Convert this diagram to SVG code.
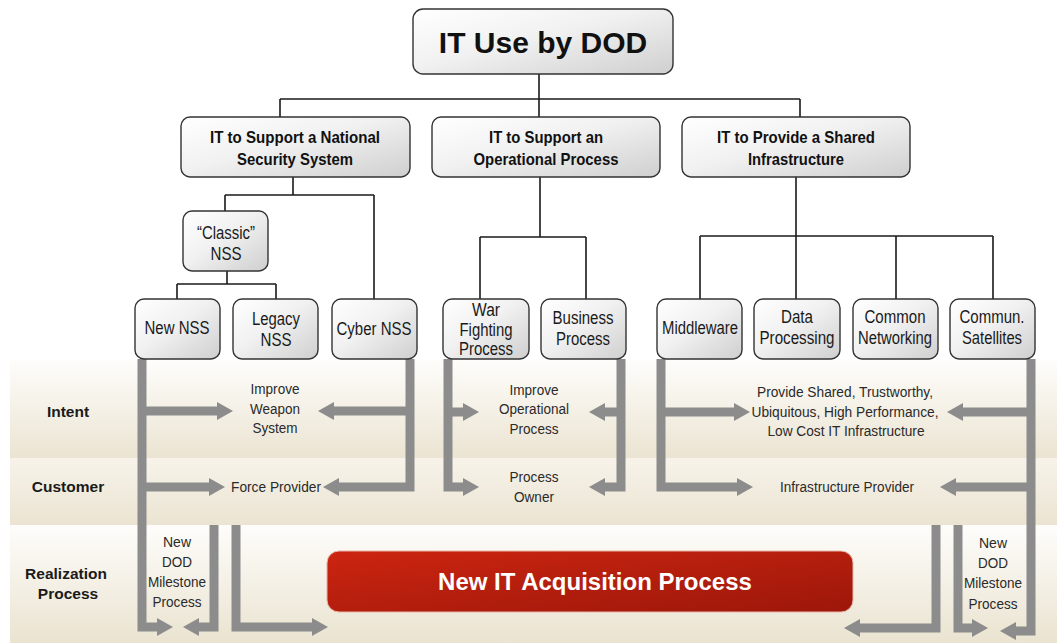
<svg xmlns="http://www.w3.org/2000/svg" width="1057" height="643" viewBox="0 0 1057 643">
<style>
.box{fill:url(#gbox);stroke:#333;stroke-width:1.4}
.tree{fill:none;stroke:#1a1a1a;stroke-width:1.6}
.flow{fill:none;stroke:#8c8c8c;stroke-width:9;stroke-linejoin:miter;marker-end:url(#ah)}
.t1{font-family:"Liberation Sans",Arial,sans-serif;font-weight:bold;font-size:30px;fill:#111;text-anchor:middle}
.t2{font-family:"Liberation Sans",Arial,sans-serif;font-weight:bold;font-size:16.5px;fill:#111;text-anchor:middle}
.t3{font-family:"Liberation Sans",Arial,sans-serif;font-size:17.5px;fill:#1a1a1a;text-anchor:middle}
.tb{font-family:"Liberation Sans",Arial,sans-serif;font-size:15.5px;fill:#2a2a2a;text-anchor:middle}
.lab{font-family:"Liberation Sans",Arial,sans-serif;font-weight:bold;font-size:15.5px;fill:#1a1a1a;text-anchor:middle}
.big{font-family:"Liberation Sans",Arial,sans-serif;font-weight:bold;font-size:24px;fill:#fff;text-anchor:middle}
</style>
<defs>
<linearGradient id="gbox" x1="0" y1="0" x2="1" y2="1">
<stop offset="0" stop-color="#ffffff"/><stop offset="0.45" stop-color="#f1f1f1"/><stop offset="1" stop-color="#cfcfcf"/>
</linearGradient>
<linearGradient id="gint" x1="0" y1="0" x2="0" y2="1">
<stop offset="0" stop-color="#fefdfb"/><stop offset="1" stop-color="#ebe4d2"/>
</linearGradient>
<linearGradient id="gcus" x1="0" y1="0" x2="0" y2="1">
<stop offset="0" stop-color="#f7f3ea"/><stop offset="1" stop-color="#ebe4d2"/>
</linearGradient>
<linearGradient id="grea" x1="0" y1="0" x2="0" y2="1">
<stop offset="0" stop-color="#fefdfb"/><stop offset="1" stop-color="#eae3d0"/>
</linearGradient>
<linearGradient id="gred" x1="0" y1="0" x2="1" y2="1">
<stop offset="0" stop-color="#cc2510"/><stop offset="1" stop-color="#9c170a"/>
</linearGradient>
<marker id="ah" markerUnits="userSpaceOnUse" markerWidth="18" markerHeight="20" viewBox="0 0 18 20" refX="4" refY="10" orient="auto">
<path d="M0,1 L16,10 L0,19 z" fill="#8c8c8c"/>
</marker>
</defs>

<rect width="1057" height="643" fill="#ffffff"/>
<g id="bands">
<rect x="10" y="360" width="1047" height="98" fill="url(#gint)"/>
<rect x="10" y="458" width="1047" height="67" fill="url(#gcus)"/>
<rect x="10" y="525" width="1047" height="118" fill="url(#grea)"/>
</g>

<g id="row-labels">
<text class="lab" x="68" y="417">Intent</text>
<text class="lab" x="68" y="492">Customer</text>
<text class="lab" x="66" y="579">Realization</text>
<text class="lab" x="68" y="599">Process</text>
</g>

<g id="connectors">
<path class="tree" d="M539,74 V99 M280,99 H800 M280,99 V117 M539,99 V117 M800,99 V117"/>
<path class="tree" d="M293,177 V195 M225,195 H374 M225,195 V211 M374,195 V299"/>
<path class="tree" d="M227,271 V284 M177,284 H276 M177,284 V299 M276,284 V299"/>
<path class="tree" d="M540,177 V237 M480,237 H586 M480,237 V299 M586,237 V299"/>
<path class="tree" d="M796,177 V236 M700,236 H993 M700,236 V299 M796,236 V299 M896,236 V299 M993,236 V299"/>

<path class="flow" d="M142,359 V627 H161"/>
<path class="flow" d="M142,411 H221"/>
<path class="flow" d="M142,487 H213"/>
<path class="flow" d="M410,359 V487 H335"/>
<path class="flow" d="M410,411 H330"/>
<path class="flow" d="M214,525 V627 H195"/>
<path class="flow" d="M236,525 V627 H316"/>

<path class="flow" d="M448,359 V487 H467"/>
<path class="flow" d="M448,412 H467"/>
<path class="flow" d="M621,359 V487 H601"/>
<path class="flow" d="M621,412 H601"/>

<path class="flow" d="M661,359 V487 H741"/>
<path class="flow" d="M661,412 H738"/>
<path class="flow" d="M1031,359 V631 H1012"/>
<path class="flow" d="M1031,412 H959"/>
<path class="flow" d="M1031,487 H952"/>
<path class="flow" d="M936,525 V628 H856"/>
<path class="flow" d="M958,525 V628 H976"/>
</g>

<g id="n-root">
<rect class="box" x="413" y="9" width="260" height="65" rx="10"/>
<text class="t1" x="543" y="53">IT Use by DOD</text>
</g>
<g id="n-nss">
<rect class="box" x="181" y="117" width="229" height="60" rx="9"/>
<text class="t2" x="295" y="143" textLength="170" lengthAdjust="spacingAndGlyphs">IT to Support a National</text>
<text class="t2" x="295" y="165" textLength="116" lengthAdjust="spacingAndGlyphs">Security System</text>
</g>
<g id="n-op">
<rect class="box" x="432" y="117" width="228" height="60" rx="9"/>
<text class="t2" x="546" y="143" textLength="114" lengthAdjust="spacingAndGlyphs">IT to Support an</text>
<text class="t2" x="546" y="165" textLength="145" lengthAdjust="spacingAndGlyphs">Operational Process</text>
</g>
<g id="n-infra">
<rect class="box" x="682" y="117" width="228" height="60" rx="9"/>
<text class="t2" x="796" y="143" textLength="158" lengthAdjust="spacingAndGlyphs">IT to Provide a Shared</text>
<text class="t2" x="796" y="165" textLength="96" lengthAdjust="spacingAndGlyphs">Infrastructure</text>
</g>
<g id="n-classic">
<rect class="box" x="183" y="211" width="85" height="60" rx="9"/>
<text class="t3" x="226" y="239" textLength="58" lengthAdjust="spacingAndGlyphs">“Classic”</text>
<text class="t3" x="226" y="260" textLength="31" lengthAdjust="spacingAndGlyphs">NSS</text>
</g>
<g id="n-newnss">
<rect class="box" x="135" y="299" width="85" height="60" rx="9"/>
<text class="t3" x="177" y="334" textLength="65" lengthAdjust="spacingAndGlyphs">New NSS</text>
</g>
<g id="n-legacy">
<rect class="box" x="233" y="299" width="85" height="60" rx="9"/>
<text class="t3" x="276" y="325" textLength="48" lengthAdjust="spacingAndGlyphs">Legacy</text>
<text class="t3" x="276" y="346" textLength="31" lengthAdjust="spacingAndGlyphs">NSS</text>
</g>
<g id="n-cyber">
<rect class="box" x="332" y="299" width="85" height="60" rx="9"/>
<text class="t3" x="374" y="335" textLength="75" lengthAdjust="spacingAndGlyphs">Cyber NSS</text>
</g>
<g id="n-war">
<rect class="box" x="443" y="299" width="86" height="60" rx="9"/>
<text class="t3" x="486" y="316" textLength="28" lengthAdjust="spacingAndGlyphs">War</text>
<text class="t3" x="486" y="336" textLength="53" lengthAdjust="spacingAndGlyphs">Fighting</text>
<text class="t3" x="486" y="355" textLength="54" lengthAdjust="spacingAndGlyphs">Process</text>
</g>
<g id="n-business">
<rect class="box" x="541" y="299" width="85" height="60" rx="9"/>
<text class="t3" x="583" y="324" textLength="61" lengthAdjust="spacingAndGlyphs">Business</text>
<text class="t3" x="583" y="345" textLength="54" lengthAdjust="spacingAndGlyphs">Process</text>
</g>
<g id="n-middleware">
<rect class="box" x="657" y="299" width="85" height="60" rx="9"/>
<text class="t3" x="700" y="334" textLength="76" lengthAdjust="spacingAndGlyphs">Middleware</text>
</g>
<g id="n-data">
<rect class="box" x="754" y="299" width="86" height="60" rx="9"/>
<text class="t3" x="797" y="323" textLength="32" lengthAdjust="spacingAndGlyphs">Data</text>
<text class="t3" x="797" y="344" textLength="75" lengthAdjust="spacingAndGlyphs">Processing</text>
</g>
<g id="n-networking">
<rect class="box" x="853" y="299" width="85" height="60" rx="9"/>
<text class="t3" x="895" y="323" textLength="61" lengthAdjust="spacingAndGlyphs">Common</text>
<text class="t3" x="895" y="344" textLength="74" lengthAdjust="spacingAndGlyphs">Networking</text>
</g>
<g id="n-satellites">
<rect class="box" x="950" y="299" width="85" height="60" rx="9"/>
<text class="t3" x="992" y="323" textLength="65" lengthAdjust="spacingAndGlyphs">Commun.</text>
<text class="t3" x="992" y="344" textLength="60" lengthAdjust="spacingAndGlyphs">Satellites</text>
</g>

<g id="band-texts">
<text class="tb" x="275" y="394" textLength="49" lengthAdjust="spacingAndGlyphs">Improve</text>
<text class="tb" x="275" y="414" textLength="50" lengthAdjust="spacingAndGlyphs">Weapon</text>
<text class="tb" x="275" y="433" textLength="45" lengthAdjust="spacingAndGlyphs">System</text>
<text class="tb" x="276" y="492" textLength="90" lengthAdjust="spacingAndGlyphs">Force Provider</text>
<text class="tb" x="177" y="547" textLength="28" lengthAdjust="spacingAndGlyphs">New</text>
<text class="tb" x="177" y="567" textLength="30" lengthAdjust="spacingAndGlyphs">DOD</text>
<text class="tb" x="177" y="587" textLength="58" lengthAdjust="spacingAndGlyphs">Milestone</text>
<text class="tb" x="177" y="607" textLength="49" lengthAdjust="spacingAndGlyphs">Process</text>

<text class="tb" x="534" y="395" textLength="49" lengthAdjust="spacingAndGlyphs">Improve</text>
<text class="tb" x="534" y="414" textLength="70" lengthAdjust="spacingAndGlyphs">Operational</text>
<text class="tb" x="534" y="434" textLength="49" lengthAdjust="spacingAndGlyphs">Process</text>
<text class="tb" x="534" y="482" textLength="49" lengthAdjust="spacingAndGlyphs">Process</text>
<text class="tb" x="534" y="502" textLength="40" lengthAdjust="spacingAndGlyphs">Owner</text>

<text class="tb" x="845" y="397" textLength="176" lengthAdjust="spacingAndGlyphs">Provide Shared, Trustworthy,</text>
<text class="tb" x="845" y="417" textLength="187" lengthAdjust="spacingAndGlyphs">Ubiquitous, High Performance,</text>
<text class="tb" x="846" y="436" textLength="157" lengthAdjust="spacingAndGlyphs">Low Cost IT Infrastructure</text>
<text class="tb" x="847" y="492" textLength="134" lengthAdjust="spacingAndGlyphs">Infrastructure Provider</text>
<text class="tb" x="993" y="548" textLength="28" lengthAdjust="spacingAndGlyphs">New</text>
<text class="tb" x="993" y="568" textLength="30" lengthAdjust="spacingAndGlyphs">DOD</text>
<text class="tb" x="993" y="588" textLength="58" lengthAdjust="spacingAndGlyphs">Milestone</text>
<text class="tb" x="993" y="609" textLength="49" lengthAdjust="spacingAndGlyphs">Process</text>
</g>

<g id="n-acquisition">
<rect x="327" y="551" width="526" height="61" rx="12" fill="url(#gred)" stroke="#e9b5a8" stroke-width="1"/>
<text class="big" x="595" y="590">New IT Acquisition Process</text>
</g>
</svg>
